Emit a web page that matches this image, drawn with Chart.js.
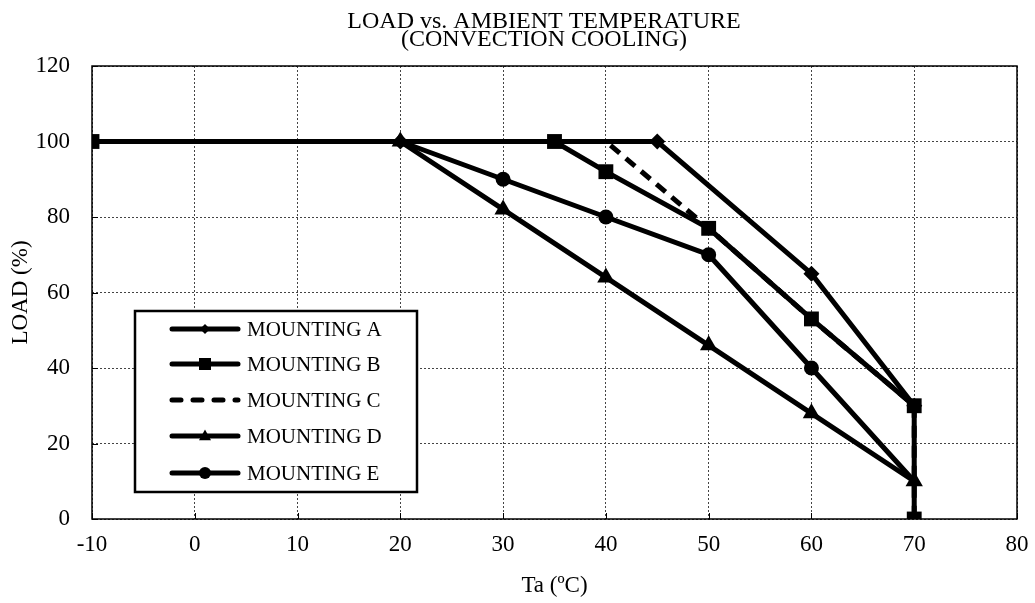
<!DOCTYPE html>
<html>
<head>
<meta charset="utf-8">
<title>LOAD vs. AMBIENT TEMPERATURE</title>
<script src="https://cdn.jsdelivr.net/npm/chart.js@4/dist/chart.umd.min.js"></script>
<style>
  html, body { margin: 0; padding: 0; background: #fff; }
  #wrap { width: 1035px; height: 603px; }
</style>
</head>
<body>
<div id="wrap"><canvas id="loadChart" width="1035" height="603"></canvas></div>
<script>
// values
const titleLines = ['LOAD vs. AMBIENT TEMPERATURE', '(CONVECTION COOLING)'];
const xTicks = [-10, 0, 10, 20, 30, 40, 50, 60, 70, 80];
const yTicks = [0, 20, 40, 60, 80, 100, 120];

const seriesNames = ['MOUNTING A', 'MOUNTING B', 'MOUNTING C', 'MOUNTING D', 'MOUNTING E'];

const tempA = [20, 45, 60, 70];
const loadA = [100, 100, 65, 30];

const tempB = [-10, 35, 40, 50, 60, 70, 70];
const loadB = [100, 100, 92, 77, 53, 30, 0];

const tempC = [-10, 40, 50, 60, 70, 70];
const loadC = [100, 100, 77, 53, 30, 0];

const tempD = [20, 30, 40, 50, 60, 70];
const loadD = [100, 82, 64, 46, 28, 10];

const tempE = [20, 30, 40, 50, 60, 70];
const loadE = [100, 90, 80, 70, 40, 10];

const FONT = "'Liberation Serif', 'Times New Roman', serif";

function pts(xs, ys){
    return xs.map((x, i) => ({x: x, y: ys[i]}));
}

// lower order = drawn on top (D over A/E, B over A)
const styles = [
    {pointStyle: 'rectRot', radius: 8, dash: [], order: 2},
    {pointStyle: 'rect', radius: 10.5, dash: [], order: 1},
    {pointStyle: false, radius: 0, dash: [12, 8], order: 4},
    {pointStyle: 'triangle', radius: 10, dash: [], order: 0},
    {pointStyle: 'circle', radius: [0, 7.5, 7.5, 7.5, 7.5, 0], dash: [], order: 3}
];

const allData = [pts(tempA, loadA), pts(tempB, loadB), pts(tempC, loadC), pts(tempD, loadD), pts(tempE, loadE)];

function drawMarker(ctx, style, x, y, r){
    ctx.beginPath();
    if(style === 'rectRot'){
        ctx.moveTo(x, y - r); ctx.lineTo(x + r, y); ctx.lineTo(x, y + r); ctx.lineTo(x - r, y);
    } else if(style === 'rect'){
        ctx.rect(x - r, y - r, 2 * r, 2 * r);
    } else if(style === 'triangle'){
        ctx.moveTo(x, y - r * 1.1); ctx.lineTo(x + r, y + r * 0.7); ctx.lineTo(x - r, y + r * 0.7);
    } else if(style === 'circle'){
        ctx.arc(x, y, r, 0, Math.PI * 2);
    }
    ctx.closePath();
    ctx.fill();
}

const framePlugin = {
    id: 'frame',
    afterDraw(chart){
        const ctx = chart.ctx;
        const a = chart.chartArea;
        const xs = chart.scales.x, ys = chart.scales.y;
        ctx.save();

        // title
        ctx.fillStyle = '#000';
        ctx.font = '24px ' + FONT;
        ctx.textAlign = 'center';
        ctx.textBaseline = 'alphabetic';
        ctx.fillText(titleLines[0], 544, 28);
        ctx.fillText(titleLines[1], 544, 46);

        // plot border + inner tick marks
        ctx.strokeStyle = '#000';
        ctx.lineWidth = 1.5;
        ctx.strokeRect(a.left, a.top, a.right - a.left, a.bottom - a.top);
        ctx.lineWidth = 1;
        ctx.beginPath();
        xTicks.forEach(v => {
            const px = Math.round(xs.getPixelForValue(v)) + 0.5;
            ctx.moveTo(px, a.bottom); ctx.lineTo(px, a.bottom - 6);
        });
        yTicks.forEach(v => {
            const py = Math.round(ys.getPixelForValue(v)) + 0.5;
            ctx.moveTo(a.left, py); ctx.lineTo(a.left + 6, py);
        });
        ctx.stroke();

        // legend box
        const bx = 135, by = 311, bw = 282, bh = 181;
        ctx.fillStyle = '#fff';
        ctx.fillRect(bx, by, bw, bh);
        ctx.lineWidth = 2.5;
        ctx.strokeStyle = '#000';
        ctx.strokeRect(bx, by, bw, bh);

        const rowY = [329, 364, 400, 436, 473];
        const legR = [5, 6, 0, 6, 6];
        ctx.font = '21px ' + FONT;
        ctx.textAlign = 'left';
        ctx.textBaseline = 'middle';
        seriesNames.forEach((name, i) => {
            const y = rowY[i];
            ctx.strokeStyle = '#000';
            ctx.fillStyle = '#000';
            ctx.lineWidth = 5;
            ctx.lineCap = 'round';
            ctx.setLineDash(i === 2 ? [9, 12] : []);
            ctx.beginPath();
            ctx.moveTo(172, y); ctx.lineTo(238, y);
            ctx.stroke();
            ctx.setLineDash([]);
            if(styles[i].pointStyle) drawMarker(ctx, styles[i].pointStyle, 205, y, legR[i]);
            ctx.fillText(name, 247, y + 1);
        });
        ctx.restore();
    }
};

new Chart(document.getElementById('loadChart'), {
    type: 'line',
    data: {
        datasets: allData.map((d, i) => ({
            label: seriesNames[i],
            data: d,
            order: styles[i].order,
            borderColor: '#000',
            backgroundColor: '#000',
            borderWidth: 5,
            borderDash: styles[i].dash,
            pointStyle: styles[i].pointStyle,
            pointRadius: styles[i].radius,
            pointHoverRadius: styles[i].radius,
            pointBackgroundColor: '#000',
            pointBorderColor: '#000',
            pointBorderWidth: 0,
            tension: 0,
            fill: false
        }))
    },
    options: {
        responsive: false,
        animation: false,
        devicePixelRatio: 1,
        layout: {padding: {top: 66, right: 18, bottom: 0, left: 0}},
        plugins: {
            legend: {display: false},
            title: {display: false},
            tooltip: {enabled: false}
        },
        scales: {
            x: {
                type: 'linear',
                min: -10, max: 80,
                afterFit(scale){ scale.height = 84; scale.paddingLeft = 0; scale.paddingRight = 0; },
                afterBuildTicks(scale){ scale.ticks = xTicks.map(v => ({value: v})); },
                ticks: {color: '#000', font: {family: FONT, size: 23}, padding: 12},
                grid: {color: '#444', lineWidth: 1, drawTicks: false},
                border: {display: false, dash: [2, 2]},
                title: {display: true, text: 'Ta (ºC)', color: '#000', font: {family: FONT, size: 23}, padding: {top: 0, bottom: 3}}
            },
            y: {
                min: 0, max: 120,
                afterFit(scale){ scale.width = 92; },
                afterBuildTicks(scale){ scale.ticks = yTicks.map(v => ({value: v})); },
                ticks: {color: '#000', font: {family: FONT, size: 23}, padding: 22},
                grid: {color: '#444', lineWidth: 1, drawTicks: false},
                border: {display: false, dash: [2, 2]},
                title: {display: true, text: 'LOAD (%)', color: '#000', font: {family: FONT, size: 23}, padding: {top: 7, bottom: 0}}
            }
        }
    },
    plugins: [framePlugin]
});
</script>
</body>
</html>
